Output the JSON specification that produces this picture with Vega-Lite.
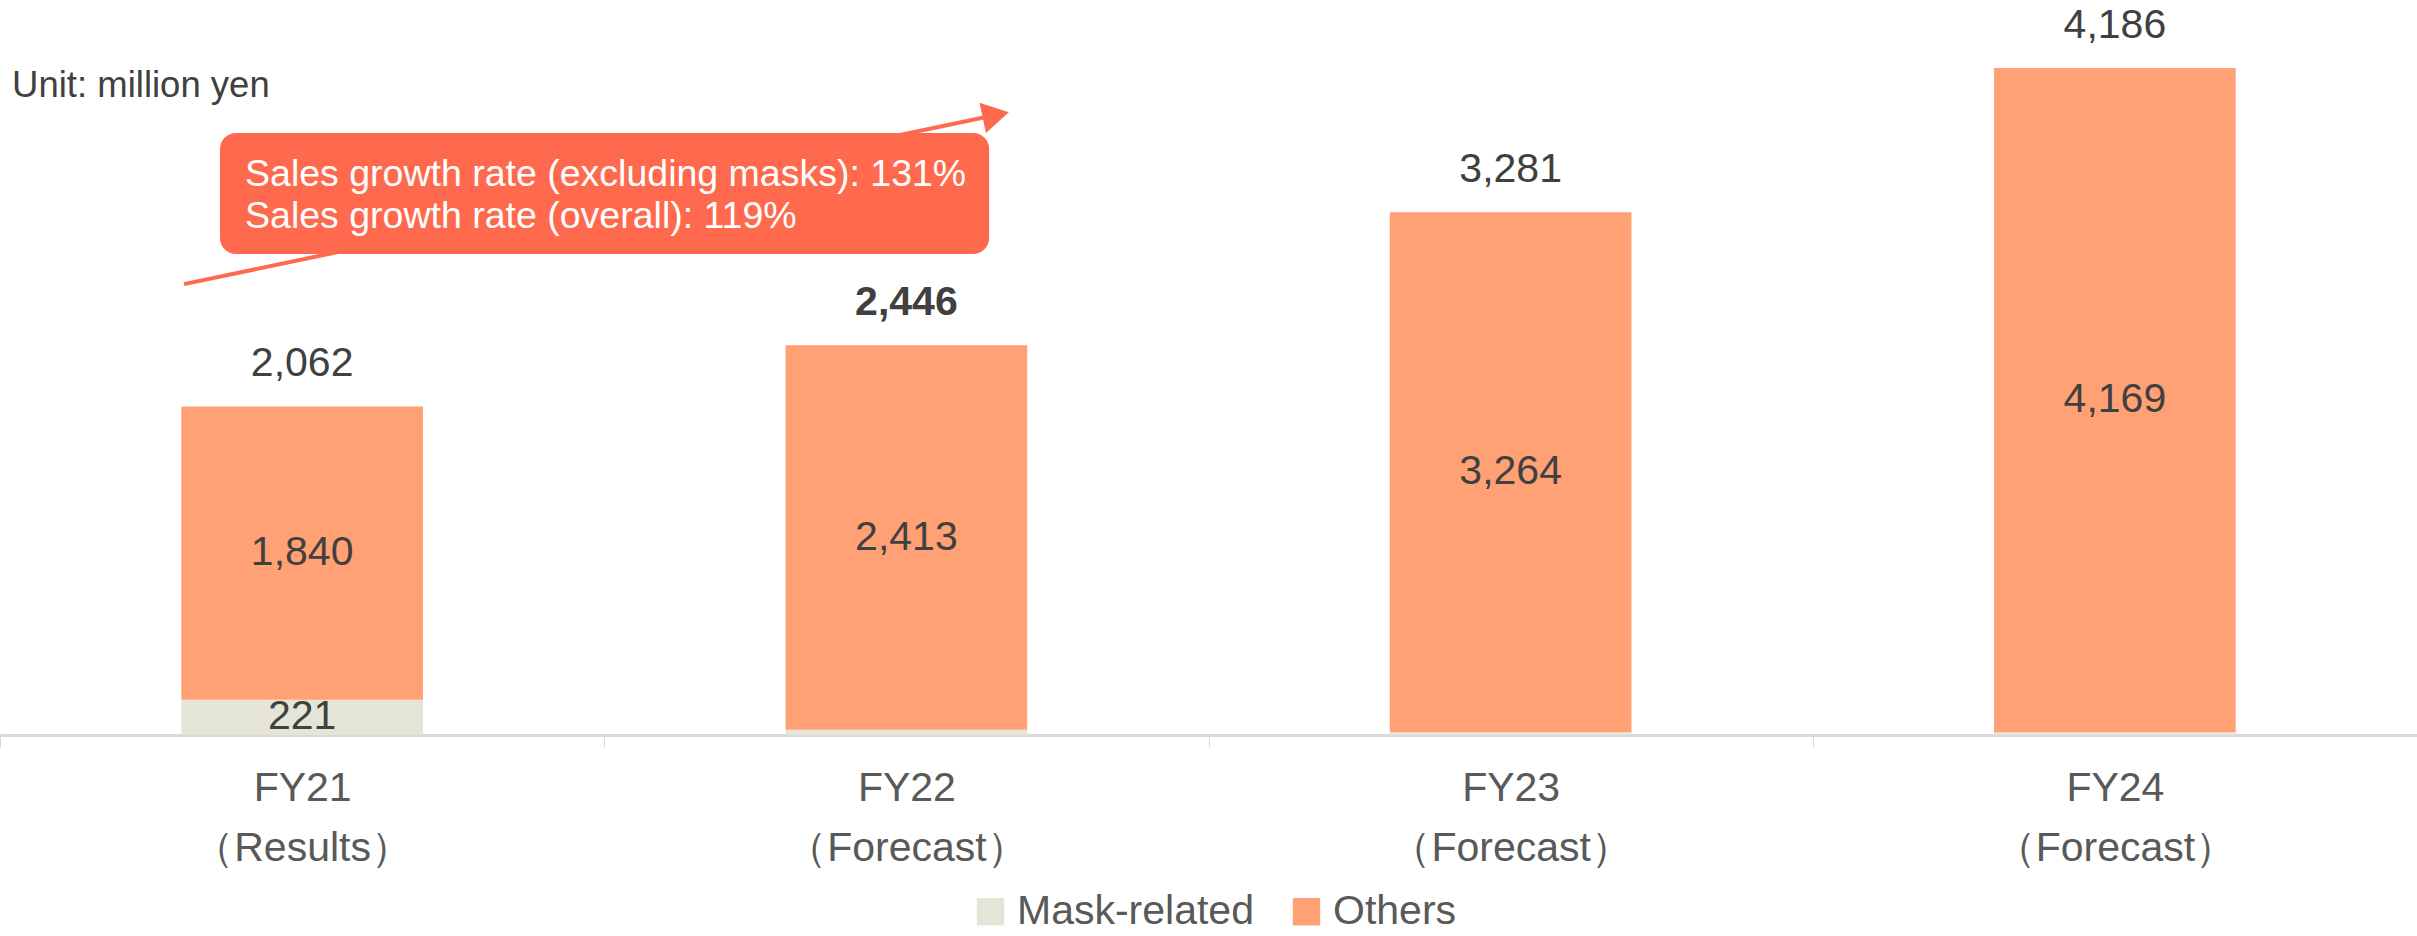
{
  "$schema": "https://vega.github.io/schema/vega-lite/v6.json",
  "width": 2417,
  "height": 735,
  "autosize": {"type": "none"},
  "padding": {"left": 0, "right": 0, "top": 0, "bottom": 201},
  "background": "white",
  "config": {"view": {"stroke": null}, "font": "Liberation Sans"},
  "datasets": {
    "sales": [
      {"year": "FY21", "segment": "Mask-related", "value": 221},
      {"year": "FY21", "segment": "Others", "value": 1840},
      {"year": "FY22", "segment": "Mask-related", "value": 33},
      {"year": "FY22", "segment": "Others", "value": 2413},
      {"year": "FY23", "segment": "Mask-related", "value": 17},
      {"year": "FY23", "segment": "Others", "value": 3264},
      {"year": "FY24", "segment": "Mask-related", "value": 17},
      {"year": "FY24", "segment": "Others", "value": 4169}
    ],
    "totals": [
      {"year": "FY21", "total": 2062},
      {"year": "FY22", "total": 2446},
      {"year": "FY23", "total": 3281},
      {"year": "FY24", "total": 4186}
    ],
    "box": [{"x": 0.364, "x2": 1.637, "y": 3019, "y2": 3778}],
    "boxText": [
      {"x": 0.4055, "y": 3514, "label": "Sales growth rate (excluding masks): 131%"},
      {"x": 0.4055, "y": 3251, "label": "Sales growth rate (overall): 119%"}
    ],
    "arrow": [
      {"x": 0.3045, "y": 2830},
      {"x": 1.648, "y": 3891}
    ],
    "arrowHead": [{"x": 1.648, "y": 3891}],
    "unit": [{"x": 0.02, "y": 4073, "label": "Unit: million yen"}]
  },
  "resolve": {"scale": {"x": "independent"}},
  "layer": [
    {
      "layer": [
        {
          "data": {"name": "sales"},
          "mark": {"type": "bar", "width": {"band": 0.4}},
          "encoding": {
            "x": {
              "field": "year", "type": "nominal", "sort": null,
              "scale": {"type": "band", "paddingInner": 0, "paddingOuter": 0},
              "axis": {
                "title": null, "labelAngle": 0, "labelFontSize": 41, "labelColor": "#595959",
                "labelExpr": "datum.label ? [datum.label, datum.label == 'FY21' ? '（Results）' : '（Forecast）'] : ''",
                "labelLineHeight": 60, "labelPadding": 21, "labelLimit": 0,
                "tickBand": "extent", "tickColor": "#d9d9d9", "tickSize": 12, "tickWidth": 1,
                "domainColor": "#d9d9d9", "domainWidth": 3
              }
            },
            "y": {
              "field": "value", "type": "quantitative", "stack": "zero",
              "scale": {"domain": [0, 4613], "nice": false, "zero": true},
              "axis": null
            },
            "color": {
              "field": "segment", "type": "nominal",
              "scale": {"domain": ["Mask-related", "Others"], "range": ["#E4E5D7", "#FFA075"]},
              "legend": {
                "title": null, "orient": "none", "direction": "horizontal",
                "legendX": 970, "legendY": 891,
                "symbolType": "square", "symbolSize": 750, "symbolStrokeWidth": 0,
                "labelFontSize": 41, "labelColor": "#595959", "columnPadding": 32, "labelOffset": 6,
                "labelLimit": 0
              }
            },
            "order": {"field": "segment", "sort": "ascending"}
          }
        },
        {
          "data": {"name": "sales"},
          "transform": [
            {"stack": "value", "groupby": ["year"], "sort": [{"field": "segment", "order": "ascending"}], "as": ["v0", "v1"]},
            {"filter": "datum.value > 100"},
            {"fold": ["v0", "v1"], "as": ["edge", "pos"]},
            {"aggregate": [{"op": "mean", "field": "pos", "as": "mid"}, {"op": "max", "field": "value", "as": "val"}], "groupby": ["year", "segment"]}
          ],
          "mark": {"type": "text", "fontSize": 41, "color": "#404040", "baseline": "middle"},
          "encoding": {
            "x": {"field": "year", "type": "nominal", "sort": null},
            "y": {"field": "mid", "type": "quantitative", "scale": {"domain": [0, 4613], "nice": false}},
            "text": {"field": "val", "type": "quantitative", "format": ",d"}
          }
        },
        {
          "data": {"name": "totals"},
          "transform": [{"filter": "datum.year != 'FY22'"}],
          "mark": {"type": "text", "fontSize": 41, "color": "#404040", "baseline": "middle", "dy": -42},
          "encoding": {
            "x": {"field": "year", "type": "nominal", "sort": null},
            "y": {"field": "total", "type": "quantitative", "scale": {"domain": [0, 4613], "nice": false}},
            "text": {"field": "total", "type": "quantitative", "format": ",d"}
          }
        },
        {
          "data": {"name": "totals"},
          "transform": [{"filter": "datum.year == 'FY22'"}],
          "mark": {"type": "text", "fontSize": 41, "fontWeight": "bold", "color": "#404040", "baseline": "middle", "dy": -42},
          "encoding": {
            "x": {"field": "year", "type": "nominal", "sort": null},
            "y": {"field": "total", "type": "quantitative", "scale": {"domain": [0, 4613], "nice": false}},
            "text": {"field": "total", "type": "quantitative", "format": ",d"}
          }
        }
      ]
    },
    {
      "layer": [
        {
          "data": {"name": "arrow"},
          "mark": {"type": "line", "color": "#FF6A4F", "strokeWidth": 4},
          "encoding": {
            "x": {"field": "x", "type": "quantitative", "scale": {"domain": [0, 4], "nice": false, "zero": true}, "axis": null},
            "y": {"field": "y", "type": "quantitative", "scale": {"domain": [0, 4613], "nice": false}, "axis": null}
          }
        },
        {
          "data": {"name": "arrowHead"},
          "mark": {"type": "point", "shape": "triangle-right", "filled": true, "color": "#FF6A4F", "size": 950, "angle": 348, "opacity": 1},
          "encoding": {
            "x": {"field": "x", "type": "quantitative"},
            "y": {"field": "y", "type": "quantitative"}
          }
        },
        {
          "data": {"name": "box"},
          "mark": {"type": "rect", "color": "#FF6A4F", "cornerRadius": 16},
          "encoding": {
            "x": {"field": "x", "type": "quantitative"},
            "x2": {"field": "x2"},
            "y": {"field": "y", "type": "quantitative"},
            "y2": {"field": "y2"}
          }
        },
        {
          "data": {"name": "boxText"},
          "mark": {"type": "text", "align": "left", "baseline": "middle", "fontSize": 37.5, "color": "white"},
          "encoding": {
            "x": {"field": "x", "type": "quantitative"},
            "y": {"field": "y", "type": "quantitative"},
            "text": {"field": "label"}
          }
        },
        {
          "data": {"name": "unit"},
          "mark": {"type": "text", "align": "left", "baseline": "middle", "fontSize": 36.5, "color": "#404040"},
          "encoding": {
            "x": {"field": "x", "type": "quantitative"},
            "y": {"field": "y", "type": "quantitative"},
            "text": {"field": "label"}
          }
        }
      ]
    }
  ]
}
